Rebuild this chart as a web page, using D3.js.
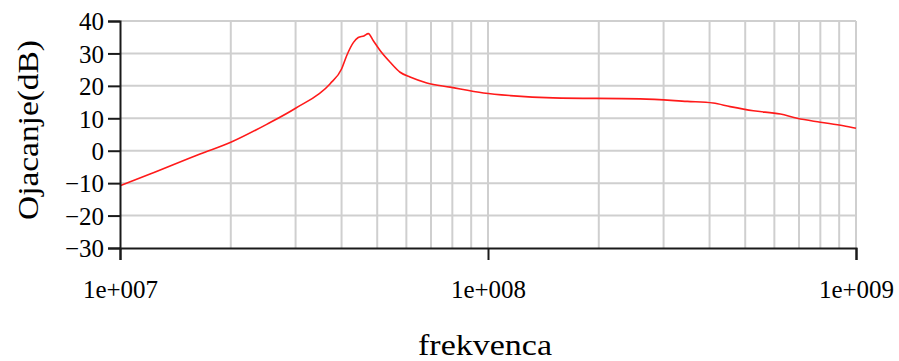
<!DOCTYPE html>
<html>
<head>
<meta charset="utf-8">
<script src="https://cdn.jsdelivr.net/npm/d3@7"></script>
<style>
  body { margin: 0; background: #fff; }
  svg { display: block; }
</style>
</head>
<body>
<div id="chart"></div>
<script>
// Frequency response
const frequencies = [
  1.0e7, 1.207e7, 1.65e7, 2.0e7, 2.51e7, 3.0e7, 3.72e7, 4.0e7, 4.13e7, 4.31e7,
  4.44e7, 4.6e7, 4.73e7, 4.88e7, 5.09e7, 5.42e7, 5.77e7, 6.14e7, 6.82e7, 7.89e7, 9.72e7,
  1.149e8, 1.503e8, 2.59e8, 3.48e8, 4.09e8, 4.55e8, 5.26e8, 6.23e8, 6.92e8, 8.0e8,
  9.24e8, 1.0e9
];
const gainDb = [
  -10.8, -7.2, -1.0, 2.6, 8.2, 13.1, 20.6, 25.2, 29.3, 33.4,
  34.9, 35.4, 36.1, 33.9, 30.9, 27.3, 24.2, 22.7, 20.9, 19.6, 17.8,
  17.0, 16.3, 16.0, 15.2, 14.7, 13.6, 12.3, 11.3, 10.0, 8.8,
  7.7, 6.9
];
const yTicks = [-30, -20, -10, 0, 10, 20, 30, 40];
const xMajorTicks = [1e7, 1e8, 1e9];
const xTickLabels = ["1e+007", "1e+008", "1e+009"];
const xLabel = "frekvenca";
const yLabel = "Ojacanje(dB)";

const width = 899, height = 361;
const margin = { left: 120, right: 43, top: 21, bottom: 113 };

const svg = d3.select("#chart").append("svg")
  .attr("width", width)
  .attr("height", height);

const x = d3.scaleLog()
  .domain([1e7, 1e9])
  .range([margin.left, width - margin.right]);

const y = d3.scaleLinear()
  .domain([-30, 40])
  .range([height - margin.bottom, margin.top]);

// minor grid positions: 2..9 of each decade
const gridX = [];
[1e7, 1e8].forEach(d => {
  for (let k = 2; k <= 10; k++) gridX.push(d * k);
});

const grid = svg.append("g").attr("stroke", "#cfcfcf").attr("stroke-width", 2);

grid.selectAll(".gx")
  .data(gridX)
  .join("line")
  .attr("x1", d => x(d)).attr("x2", d => x(d))
  .attr("y1", y(40)).attr("y2", y(-30));

grid.selectAll(".gy")
  .data(yTicks.filter(d => d > -30))
  .join("line")
  .attr("x1", x(1e7)).attr("x2", x(1e9))
  .attr("y1", d => y(d)).attr("y2", d => y(d));

// curve
const line = d3.line()
  .x((d, i) => x(frequencies[i]))
  .y(d => y(d))
  .curve(d3.curveMonotoneX);

svg.append("path")
  .datum(gainDb)
  .attr("fill", "none")
  .attr("stroke", "#ff1a1a")
  .attr("stroke-width", 1.6)
  .attr("d", line);

// axes
const font = "'Liberation Serif', 'Times New Roman', serif";

const yAxis = svg.append("g")
  .attr("transform", `translate(${margin.left},0)`)
  .call(d3.axisLeft(y).tickValues(yTicks).tickSize(12).tickPadding(4).tickFormat(d3.format("d")));

const xAxis = svg.append("g")
  .attr("transform", `translate(0,${height - margin.bottom})`)
  .call(d3.axisBottom(x).tickValues(xMajorTicks).tickSize(12).tickPadding(20)
    .tickFormat((d, i) => xTickLabels[i]));

[yAxis, xAxis].forEach(g => {
  g.attr("font-family", font);
  g.select(".domain").attr("stroke", "#1a1a1a").attr("stroke-width", 2);
  g.selectAll(".tick line").attr("stroke", "#1a1a1a").attr("stroke-width", 2);
  g.selectAll("text")
    .attr("fill", "#000")
    .style("font-family", font)
    .style("font-size", "25px");
});

yAxis.selectAll("text").attr("dy", "0.35em");

svg.append("text")
  .attr("x", 485)
  .attr("y", 355)
  .attr("text-anchor", "middle")
  .attr("textLength", 134)
  .attr("lengthAdjust", "spacingAndGlyphs")
  .style("font-family", font)
  .style("font-size", "30px")
  .text(xLabel);

svg.append("text")
  .attr("transform", "translate(38,130) rotate(-90)")
  .attr("text-anchor", "middle")
  .attr("textLength", 180)
  .attr("lengthAdjust", "spacingAndGlyphs")
  .style("font-family", font)
  .style("font-size", "30px")
  .text(yLabel);
</script>
</body>
</html>
